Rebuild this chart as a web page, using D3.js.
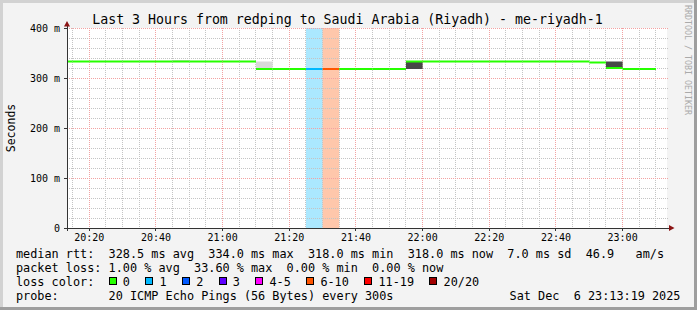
<!DOCTYPE html>
<html>
<head>
<meta charset="utf-8">
<script src="https://cdn.jsdelivr.net/npm/d3@7"></script>
<style>
  html, body { margin: 0; padding: 0; background: #f3f3f3; }
  svg { display: block; }
  text { font-family: "DejaVu Sans Mono", monospace; fill: #000; white-space: pre; }
</style>
</head>
<body>
<svg id="chart" width="697" height="310"></svg>
<script>
// ---- data (5 minute bins, start time of each bin) ----
const binStart = [
  "20:10", "20:15", "20:20", "20:25", "20:30", "20:35", "20:40", "20:45", "20:50", "20:55",
  "21:00", "21:05", "21:10", "21:15", "21:20", "21:25", "21:30", "21:35", "21:40", "21:45",
  "21:50", "21:55", "22:00", "22:05", "22:10", "22:15", "22:20", "22:25", "22:30", "22:35",
  "22:40", "22:45", "22:50", "22:55", "23:00", "23:05"
]
// median rtt in ms
const median = [
  333, 333, 333, 333, 333, 333, 333, 333, 333, 333,
  333, 333, 318, 318, 318, 318, 318, 318, 318, 318,
  318, 333, 333, 333, 333, 333, 333, 333, 333, 333,
  333, 333, 331, 320, 318, 318
]
// lost pings (out of 20) per bin
const lost = [
  0, 0, 0, 0, 0, 0, 0, 0, 0, 0,
  0, 0, 0, 0, 0, 1, 6.72, 0, 0, 0,
  0, 0, 0, 0, 0, 0, 0, 0, 0, 0,
  0, 0, 0, 0, 0, 0
]
// smoke (spread of the pings) where it shows
const smokeStart = ["20:45", "21:10", "21:55", "22:55"]
const smokeLo = [333, 318, 318, 320]
const smokeHi = [336, 333, 333, 333]
const smokePings = [2, 2, 16, 16]

// loss colour legend
const lossLimit = [0, 1, 2, 3, 5, 10, 19, 20]
const lossLabel = ["0", "1", "2", "3", "4-5", "6-10", "11-19", "20/20"]
const lossColor = ["#26ff00", "#00b8ff", "#0059ff", "#5e00ff", "#ff00ff", "#ff5500", "#ff0000", "#a10000"]

const title = "Last 3 Hours from redping to Saudi Arabia (Riyadh) - me-riyadh-1"
const rttLine = "median rtt:  328.5 ms avg  334.0 ms max  318.0 ms min  318.0 ms now  7.0 ms sd  46.9   am/s"
const lossLine = "packet loss: 1.00 % avg  33.60 % max  0.00 % min  0.00 % now"
const probeLine = "probe:       20 ICMP Echo Pings (56 Bytes) every 300s"
const stamp = "Sat Dec  6 23:13:19 2025"

// ---- layout ----
const W = 697, H = 310
const plotL = 67, plotR = 667, plotT = 28, plotB = 228
const cw = 7.12           // monospace advance in the legend
const legendX = 16

const parseHM = d3.utcParse('%H:%M')
const parseHMS = d3.utcParse('%H:%M:%S')
const step = 5 * 60 * 1000

const x = d3.scaleUtc()
    .domain([parseHMS('20:13:19'), parseHMS('23:13:19')])
    .range([plotL, plotR])
const y = d3.scaleLinear().domain([0, 400]).range([plotB, plotT])

const colorFor = n => lossColor[lossLimit.findIndex(l => n <= l)]
const smokeShade = d3.scaleLinear().domain([0, 20]).range(['#eeeeee', '#1e1e1e'])

const bins = binStart.map((s, i) => ({ t: parseHM(s), v: median[i], loss: lost[i] }))
const smoke = smokeStart.map((s, i) => ({ t: parseHM(s), lo: smokeLo[i], hi: smokeHi[i], n: smokePings[i] }))

const svg = d3.select('#chart')

// canvas + 3d frame
svg.append('rect').attr('width', W).attr('height', H).attr('fill', '#f3f3f3')
svg.append('rect').attr('x', 0).attr('y', 0).attr('width', W).attr('height', 3).attr('fill', '#d2d2d2')
svg.append('rect').attr('x', 0).attr('y', 0).attr('width', 3).attr('height', H).attr('fill', '#d2d2d2')
svg.append('rect').attr('x', W - 3).attr('y', 0).attr('width', 3).attr('height', H).attr('fill', '#9e9e9e')
svg.append('rect').attr('x', 0).attr('y', H - 3).attr('width', W).attr('height', 3).attr('fill', '#9e9e9e')

// plot area
svg.append('rect')
    .attr('x', plotL).attr('y', plotT)
    .attr('width', plotR - plotL).attr('height', plotB - plotT)
    .attr('fill', '#fff')

svg.append('clipPath').attr('id', 'plotclip')
    .append('rect')
    .attr('x', plotL).attr('y', plotT)
    .attr('width', plotR - plotL + 1).attr('height', plotB - plotT)

const plot = svg.append('g').attr('clip-path', 'url(#plotclip)')

// loss background bands
plot.selectAll('.band')
    .data(bins.filter(d => d.loss > 0))
    .join('rect')
    .classed('band', true)
    .attr('x', d => x(d.t))
    .attr('width', d => x(new Date(+d.t + step)) - x(d.t))
    .attr('y', plotT)
    .attr('height', plotB - plotT)
    .attr('fill', d => colorFor(d.loss))
    .attr('fill-opacity', 0.33)

// grid
const grid = plot.append('g').attr('shape-rendering', 'crispEdges').attr('stroke-dasharray', '1,1')
grid.selectAll('.vminor')
    .data(x.ticks(d3.utcMinute.every(5)))
    .join('line')
    .attr('x1', d => x(d)).attr('x2', d => x(d))
    .attr('y1', plotT).attr('y2', plotB)
    .attr('stroke', '#c4c4c4')
grid.selectAll('.hminor')
    .data(d3.range(20, 400, 20).filter(v => v % 100))
    .join('line')
    .attr('x1', plotL).attr('x2', plotR + 1)
    .attr('y1', d => y(d)).attr('y2', d => y(d))
    .attr('stroke', '#c4c4c4')
grid.selectAll('.vmajor')
    .data(x.ticks(d3.utcMinute.every(20)))
    .join('line')
    .attr('x1', d => x(d)).attr('x2', d => x(d))
    .attr('y1', plotT).attr('y2', plotB)
    .attr('stroke', '#f2a2a2')
grid.selectAll('.hmajor')
    .data(y.ticks(4).filter(v => v > 0))
    .join('line')
    .attr('x1', plotL).attr('x2', plotR + 1)
    .attr('y1', d => y(d)).attr('y2', d => y(d))
    .attr('stroke', '#f2a2a2')

// smoke
plot.selectAll('.smoke')
    .data(smoke)
    .join('rect')
    .classed('smoke', true)
    .attr('x', d => x(d.t))
    .attr('width', d => x(new Date(+d.t + step)) - x(d.t))
    .attr('y', d => y(d.hi))
    .attr('height', d => y(d.lo) - y(d.hi))
    .attr('fill', d => smokeShade(d.n))

// median line, one step per bin coloured by loss
const seg = d3.line().x(p => x(p[0])).y(p => y(p[1]))
plot.selectAll('.median')
    .data(bins)
    .join('path')
    .classed('median', true)
    .attr('d', d => seg([[d.t, d.v], [new Date(+d.t + step), d.v]]))
    .attr('stroke', d => colorFor(d.loss))
    .attr('stroke-width', 2)
    .attr('fill', 'none')

// axes
const axis = svg.append('g').attr('shape-rendering', 'crispEdges').attr('stroke', '#333')
axis.append('line').attr('x1', plotL).attr('x2', plotL).attr('y1', plotB + 3).attr('y2', plotT - 2)
axis.append('line').attr('x1', plotL - 3).attr('x2', plotR + 3).attr('y1', plotB).attr('y2', plotB)
axis.selectAll('.xt')
    .data(x.ticks(d3.utcMinute.every(20)))
    .join('line')
    .attr('x1', d => x(d)).attr('x2', d => x(d))
    .attr('y1', plotB).attr('y2', plotB + 3)
axis.selectAll('.yt')
    .data(y.ticks(4))
    .join('line')
    .attr('x1', plotL - 3).attr('x2', plotL)
    .attr('y1', d => y(d)).attr('y2', d => y(d))

// arrows
svg.append('path')
    .attr('d', `M${plotL - 3},${plotT - 1.5}L${plotL + 3},${plotT - 1.5}L${plotL},${plotT - 7}Z`)
    .attr('fill', '#8b1414')
svg.append('path')
    .attr('d', `M${plotR + 2},${plotB - 3}L${plotR + 2},${plotB + 3}L${plotR + 7.5},${plotB}Z`)
    .attr('fill', '#8b1414')

// tick labels
svg.selectAll('.ylab')
    .data(y.ticks(4))
    .join('text')
    .attr('x', 60).attr('y', d => y(d))
    .attr('dy', '0.36em')
    .attr('text-anchor', 'end')
    .attr('font-size', '10px')
    .text(d => d === 0 ? '0' : `${d} m`)
svg.selectAll('.xlab')
    .data(x.ticks(d3.utcMinute.every(20)))
    .join('text')
    .attr('x', d => x(d)).attr('y', 241)
    .attr('text-anchor', 'middle')
    .attr('font-size', '10px')
    .text(d3.utcFormat('%H:%M'))

// titles
svg.append('text')
    .attr('x', 347.5).attr('y', 24)
    .attr('text-anchor', 'middle')
    .attr('font-size', '13.25px')
    .text(title)
svg.append('text')
    .attr('transform', 'translate(14.5,128) rotate(-90)')
    .attr('text-anchor', 'middle')
    .attr('font-size', '11.5px')
    .text('Seconds')
svg.append('text')
    .attr('transform', 'translate(684.5,5) rotate(90)')
    .attr('font-size', '8.3px')
    .style('fill', '#aaaaaa')
    .text('RRDTOOL / TOBI OETIKER')

// legend
const legend = svg.append('g').attr('font-size', '11.83px')
legend.append('text').attr('x', legendX).attr('y', 257.5).text(rttLine)
legend.append('text').attr('x', legendX).attr('y', 271.5).text(lossLine)
legend.append('text').attr('x', legendX).attr('y', 285.5).text('loss color:')
legend.append('text').attr('x', legendX).attr('y', 299.5).text(probeLine)
legend.append('text').attr('x', 680.5).attr('y', 299.5).attr('text-anchor', 'end').text(stamp)

let col = 13
const items = lossLabel.map((label, i) => {
    const item = { label, color: lossColor[i], x: legendX + col * cw }
    col += label.length + 4.15
    return item
})
const item = legend.selectAll('.lc')
    .data(items)
    .join('g')
    .classed('lc', true)
item.append('rect')
    .attr('x', d => Math.round(d.x) + 0.5).attr('y', 277.5)
    .attr('width', 7).attr('height', 7)
    .attr('fill', d => d.color)
    .attr('stroke', '#000')
    .attr('shape-rendering', 'crispEdges')
item.append('text')
    .attr('x', d => d.x + 2 * cw).attr('y', 285.5)
    .text(d => d.label)
</script>
</body>
</html>
